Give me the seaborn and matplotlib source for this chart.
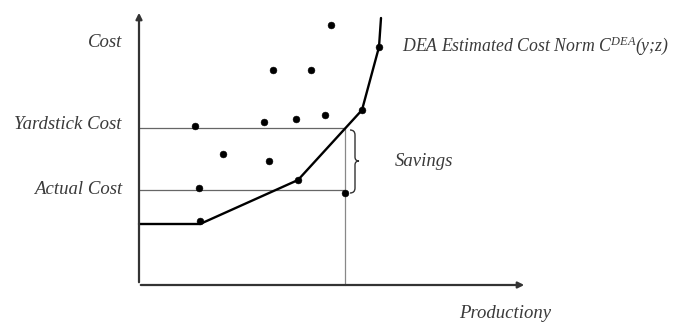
import matplotlib
matplotlib.use("Agg")
import matplotlib.pyplot as plt
import seaborn as sns
import pandas as pd
from matplotlib.path import Path
from matplotlib.patches import PathPatch

sns.set_theme(style="white")
plt.rcParams['font.family'] = ['Liberation Serif', 'DejaVu Serif']
plt.rcParams['mathtext.fontset'] = 'custom'
plt.rcParams['mathtext.rm'] = 'Liberation Serif'
plt.rcParams['mathtext.it'] = 'Liberation Serif:italic'

# Firms (production, cost) in picture units (y grows downward)
firm_x = [331, 273, 311, 195, 264, 296, 325, 223, 269, 199, 298, 200, 379, 362, 345]
firm_y = [25, 70, 70, 126, 122, 119, 115, 154, 161, 188, 180, 221, 47, 110, 193]

# DEA frontier
front_x = [139, 200, 298, 362, 379, 381]
front_y = [224, 224, 180, 110, 47, 18]

yardstick_cost = 128
actual_cost = 190
firm_prod = 345

fig = plt.figure(figsize=(6.8, 3.22), dpi=100)
ax = fig.add_axes([0, 0, 1, 1])

# axes arrows
ax.annotate("", xy=(139, 10), xytext=(139, 285),
            arrowprops=dict(arrowstyle="-|>", color="#333333", lw=1.6, mutation_scale=9))
ax.annotate("", xy=(527, 285), xytext=(138, 285),
            arrowprops=dict(arrowstyle="-|>", color="#333333", lw=1.6, mutation_scale=9))

# cost level lines
ax.plot([139, firm_prod], [yardstick_cost, yardstick_cost], color="#666666", lw=0.9)
ax.plot([139, firm_prod], [actual_cost, actual_cost], color="#666666", lw=0.9)
ax.plot([firm_prod, firm_prod], [yardstick_cost, 285], color="#888888", lw=0.9)

df_front = pd.DataFrame({"x": front_x, "y": front_y})
sns.lineplot(data=df_front, x="x", y="y", sort=False, estimator=None,
             color="black", lw=1.7, ax=ax)

df = pd.DataFrame({"x": firm_x, "y": firm_y})
sns.scatterplot(data=df, x="x", y="y", color="black", s=24, edgecolor="black", ax=ax, zorder=5)
ax.set_xlim(0, 680)
ax.set_ylim(322, 0)
ax.axis("off")

# brace for savings
verts = [(350, 130), (355, 130), (355, 135), (355, 135),
         (355, 157), (355, 157), (355, 161), (359, 161),
         (355, 161), (355, 165), (355, 165),
         (355, 188), (355, 188), (355, 193), (350, 193)]
codes = [Path.MOVETO, Path.CURVE3, Path.CURVE3, Path.LINETO,
         Path.LINETO, Path.LINETO, Path.CURVE3, Path.CURVE3,
         Path.CURVE3, Path.CURVE3, Path.LINETO,
         Path.LINETO, Path.LINETO, Path.CURVE3, Path.CURVE3]
ax.add_patch(PathPatch(Path(verts, codes), fill=False, color="#333333", lw=1.0))

tcol = "#3a3a3a"
kw = dict(style="italic", fontsize=13.5, color=tcol)
ax.text(122, 42, "Cost", ha="right", va="center", **kw)
ax.text(122, 124, "Yardstick Cost", ha="right", va="center", **kw)
ax.text(122, 189, "Actual Cost", ha="right", va="center", **kw)
ax.text(395, 161, "Savings", ha="left", va="center", **kw)
ax.text(402, 46, r"DEA Estimated Cost Norm C$^{DEA}$(y;z)", ha="left", va="center",
        style="italic", fontsize=12.8, color=tcol)
ax.text(505, 313, "Productiony", ha="center", va="center", **kw)

fig.savefig("out.png", dpi=100)
